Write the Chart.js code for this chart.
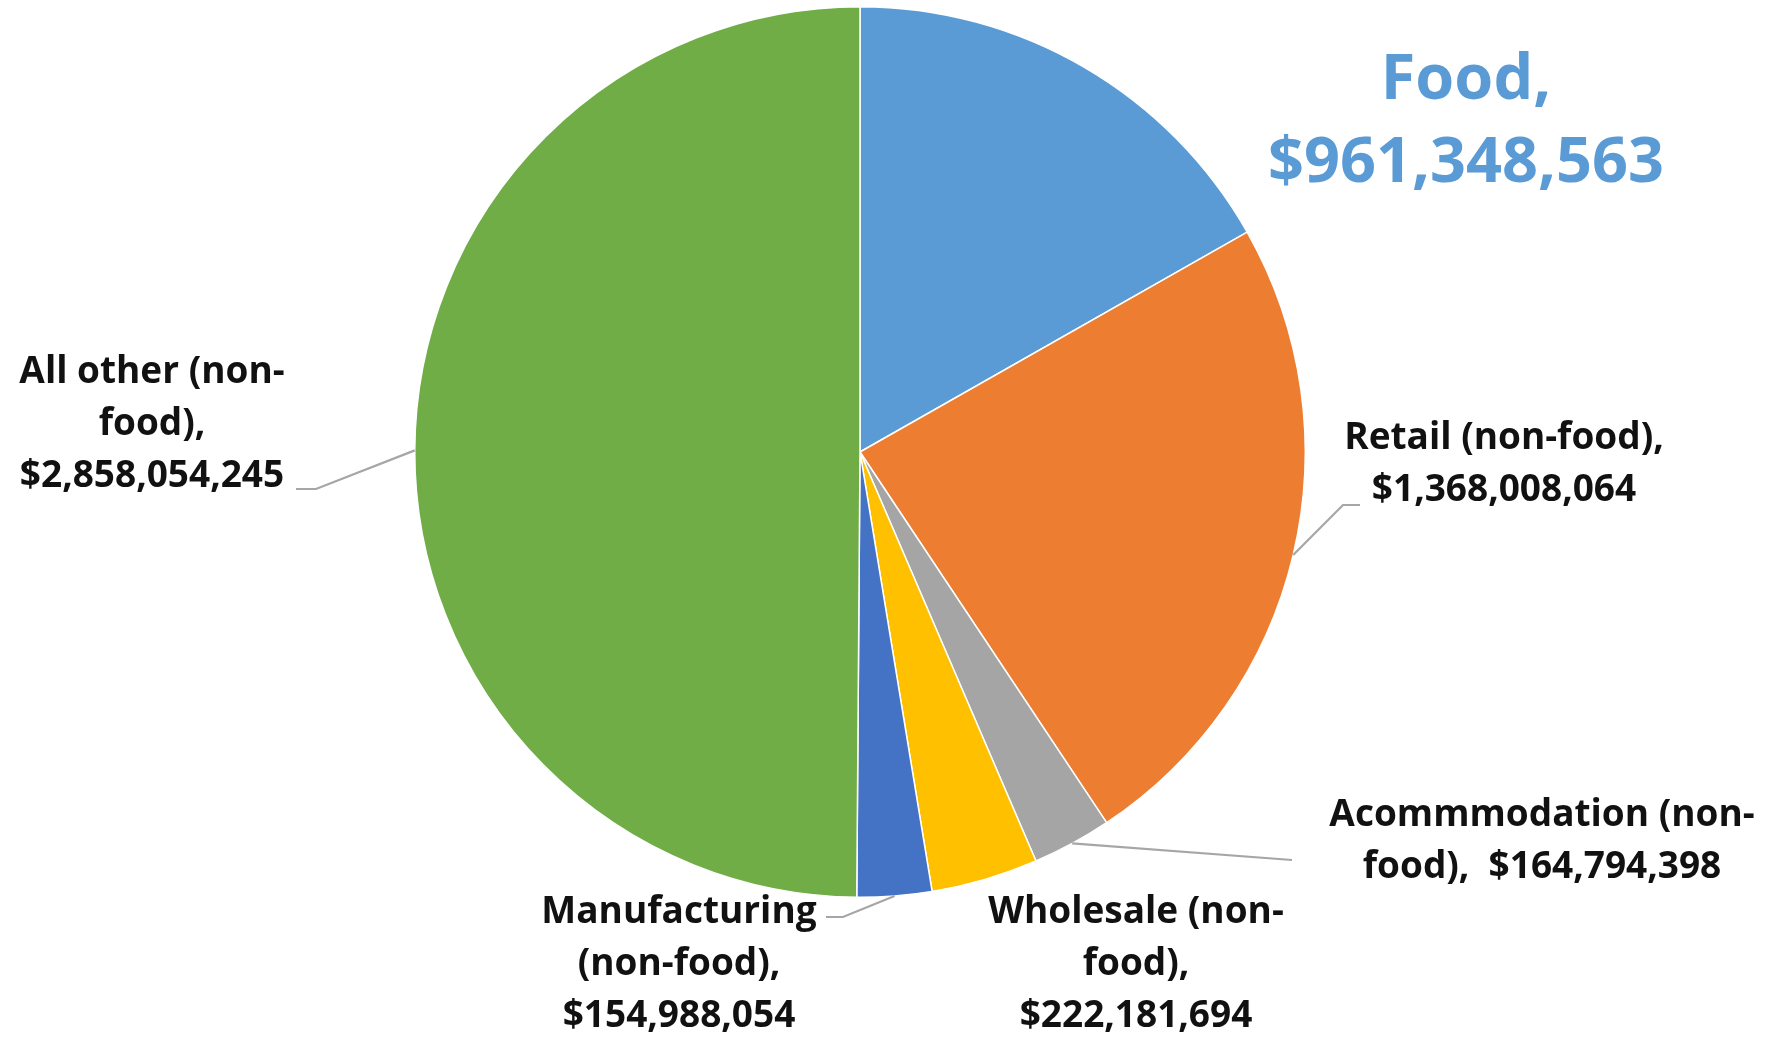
<!DOCTYPE html>
<html>
<head>
<meta charset="utf-8">
<script src="https://cdn.jsdelivr.net/npm/chart.js@4"></script>
<style>
  html, body { margin: 0; padding: 0; background: #fff; }
  #wrap { width: 1770px; height: 1037px; position: relative; }
</style>
</head>
<body>
<div id="wrap"><canvas id="pie"></canvas></div>
<script>
// Sales by sector
const sectors = [
  'Food',
  'Retail (non-food)',
  'Acommmodation (non-food)',
  'Wholesale (non-food)',
  'Manufacturing (non-food)',
  'All other (non-food)'
];
const amounts = [961348563, 1368008064, 164794398, 222181694, 154988054, 2858054245];
const sliceColors = ['#5B9BD5', '#ED7D31', '#A5A5A5', '#FFC000', '#4472C4', '#70AD47'];

// label text, split into lines the way they wrap
const labelLines = [
  ['Food,', '$961,348,563'],
  ['Retail (non-food),', '$1,368,008,064'],
  ['Acommmodation (non-', 'food),  $164,794,398'],
  ['Wholesale (non-', 'food),', '$222,181,694'],
  ['Manufacturing', '(non-food),', '$154,988,054'],
  ['All other (non-', 'food),', '$2,858,054,245']
];

// label placement: text centre x, first line y, line gap, leader elbow/end
const labelSpots = [
  { x: 1466, y: 81, gap: 83, size: 63, color: '#5B9BD5' },
  { x: 1504, y: 438, gap: 52, leader: [[1343, 505], [1360, 505]] },
  { x: 1542, y: 815, gap: 52, leader: [[1292, 860]] },
  { x: 1136, y: 912, gap: 52 },
  { x: 679, y: 912, gap: 52, leader: [[843, 917], [826, 917]] },
  { x: 152, y: 372, gap: 52, leader: [[316, 489], [296, 489]] }
];

const sliceLabels = {
  id: 'sliceLabels',
  afterDraw(chart, args, opts) {
    const ctx = chart.ctx;
    const arcs = chart.getDatasetMeta(0).data;
    ctx.save();
    arcs.forEach((arc, i) => {
      const spot = opts.spots[i];
      if (spot.leader) {
        // start the leader on the rim at the middle of the slice
        const mid = (arc.startAngle + arc.endAngle) / 2;
        const sx = arc.x + Math.cos(mid) * arc.outerRadius;
        const sy = arc.y + Math.sin(mid) * arc.outerRadius;
        ctx.beginPath();
        ctx.moveTo(sx, sy);
        spot.leader.forEach(p => ctx.lineTo(p[0], p[1]));
        ctx.lineWidth = 2.2;
        ctx.strokeStyle = '#A6A6A6';
        ctx.stroke();
      }
      ctx.font = 'bold ' + (spot.size || 37) + 'px "Open Sans"';
      ctx.fillStyle = spot.color || '#111';
      ctx.textAlign = 'center';
      ctx.textBaseline = 'middle';
      opts.lines[i].forEach((line, k) => {
        ctx.fillText(line, spot.x, spot.y + k * spot.gap);
      });
    });
    ctx.restore();
  }
};

new Chart(document.getElementById('pie'), {
  type: 'pie',
  data: {
    labels: sectors,
    datasets: [{
      data: amounts,
      backgroundColor: sliceColors,
      borderColor: '#ffffff',
      borderWidth: 1.5
    }]
  },
  plugins: [sliceLabels],
  options: {
    responsive: true,
    maintainAspectRatio: false,
    animation: false,
    layout: { padding: { left: 414, top: 6, right: 464, bottom: 139 } },
    plugins: {
      legend: { display: false },
      tooltip: { enabled: false },
      sliceLabels: { lines: labelLines, spots: labelSpots }
    }
  }
});
</script>
</body>
</html>
